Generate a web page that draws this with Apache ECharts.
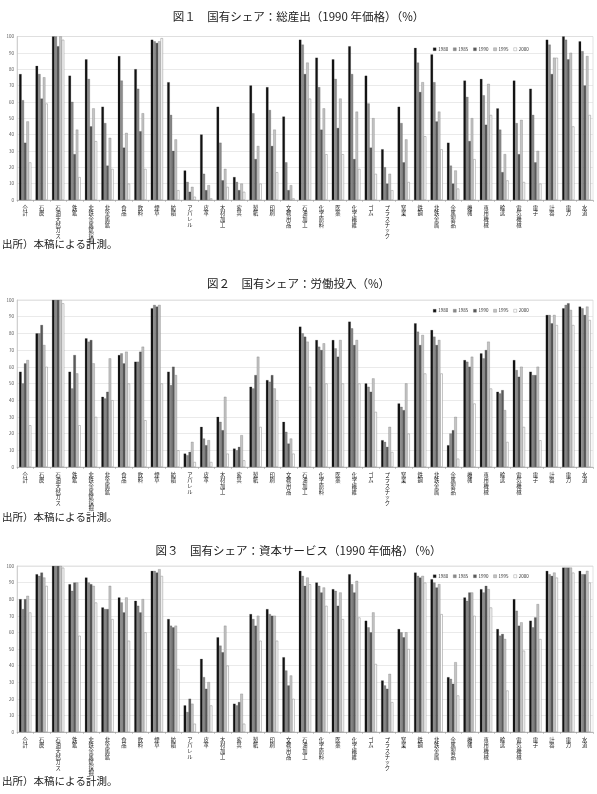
<!DOCTYPE html>
<html><head><meta charset="utf-8">
<script src="https://cdn.jsdelivr.net/npm/echarts@6/dist/echarts.min.js"></script>
<style>html,body{margin:0;padding:0;background:#fff}#c{width:597px;height:794px}</style>
</head><body><div id="c"></div>
<script>
const categories = ['合計','石炭','石油天然ガス','鉄鉱','非鉄金属鉱採掘','非金属鉱','食品','飲料','煙草','紡績','アパレル','皮革','木材加工','家具','製紙','印刷','文教用品','石油加工','化学原料','医薬','化学繊維','ゴム','プラスチック','窯業','鉄鋼','非鉄金属','金属製品','機械','専用機械','輸送','電気機械','電子','計器','電力','水道'];
const years = ['1980','1985','1990','1995','2000'];
const yTicks = [0,10,20,30,40,50,60,70,80,90,100];

// 図1 総産出
const output_1980 = [77,82,100,76,86,57,88,80,98,72,18,40,57,14,70,69,51,98,87,86,94,76,31,57,93,89,35,73,74,56,73,68,98,100,97];
const output_1985 = [61,77,100,60,74,47,73,68,97,52,11,16,35,11,53,55,23,95,69,74,77,59,20,47,84,72,21,63,64,43,47,52,95,98,91];
const output_1990 = [35,62,94,28,45,21,32,42,96,30,5,6,12,6,25,33,6,77,43,44,25,32,10,23,66,48,10,36,46,17,28,23,77,86,70];
const output_1995 = [48,75,100,43,56,38,41,53,97,37,8,9,19,10,33,43,9,84,56,62,54,50,16,37,72,54,18,50,71,28,49,30,87,90,88];
const output_2000 = [23,59,98,14,36,19,10,19,99,6,2,1,8,5,10,17,1,62,28,28,19,16,6,11,39,31,7,25,52,12,11,10,87,45,52];

// 図2 労働投入
const labor_1980 = [57,80,100,57,77,42,67,63,95,57,8,24,30,11,48,52,27,84,76,76,87,50,16,38,86,82,13,64,68,45,64,57,91,95,96];
const labor_1985 = [50,80,100,47,75,41,68,63,97,49,7,17,27,10,47,51,21,80,72,71,83,48,15,36,81,78,20,63,65,44,58,55,91,97,95];
const labor_1990 = [62,85,100,67,76,45,62,69,96,60,9,13,22,12,55,55,14,78,70,66,73,45,12,34,73,73,22,60,70,46,54,55,86,98,91];
const labor_1995 = [64,73,100,56,62,65,69,72,97,55,15,16,42,19,66,47,17,75,74,76,76,53,24,50,79,76,30,66,75,34,60,60,91,94,96];
const labor_2000 = [25,60,98,25,30,40,50,28,50,10,3,3,8,4,24,40,8,48,50,50,50,33,9,20,56,56,5,38,47,15,24,16,85,85,88];

// 図3 資本サービス
const capital_1980 = [80,95,100,89,93,75,81,79,97,68,16,44,57,17,71,74,45,97,90,86,95,67,31,62,96,92,33,81,86,62,80,67,97,99,97];
const capital_1985 = [74,94,100,85,90,74,78,76,97,64,12,33,52,16,68,71,37,94,88,85,89,63,28,60,94,90,32,79,84,58,73,63,95,99,95];
const capital_1990 = [80,96,100,90,89,74,72,72,96,63,20,26,48,18,64,70,28,88,84,76,84,60,26,57,93,87,29,84,88,59,64,69,94,99,95];
const capital_1995 = [82,93,100,90,88,88,81,80,98,64,17,30,64,23,70,70,34,93,87,84,91,72,35,60,94,89,42,84,86,56,66,77,96,99,97];
const capital_2000 = [72,88,99,58,78,68,55,60,94,38,5,16,40,5,55,55,20,89,76,68,69,41,18,50,90,71,22,70,75,25,49,56,93,96,90];

const chartData = [
  {title:'図１　国有シェア：総産出（1990 年価格）（%）', sets:[output_1980,output_1985,output_1990,output_1995,output_2000]},
  {title:'図２　国有シェア：労働投入（%）', sets:[labor_1980,labor_1985,labor_1990,labor_1995,labor_2000]},
  {title:'図３　国有シェア：資本サービス（1990 年価格）（%）', sets:[capital_1980,capital_1985,capital_1990,capital_1995,capital_2000]}
];

const colors = ['#111111','#8c8c8c','#595959','#c4c4c4','#ffffff'];
const layout = [
  {titleY:11, top:36.5, height:163.5, legendY:42, srcY:239},
  {titleY:278, top:300, height:167, legendY:303.5, srcY:512},
  {titleY:545, top:566, height:166, legendY:569, srcY:776}
];
const FONT = '"Noto Sans CJK JP","Noto Sans",sans-serif';

const grid=[], xAxis=[], yAxis=[], series=[], legend=[], graphic=[];
chartData.forEach((c,i)=>{
  const L = layout[i];
  grid.push({left:17, right:4, top:L.top, height:L.height, containLabel:false,
    show:true, borderColor:'#d0d0d0', borderWidth:0.6});
  xAxis.push({type:'category', gridIndex:i, data:categories,
    axisLine:{lineStyle:{color:'#999',width:0.6}},
    axisTick:{show:true, length:2, lineStyle:{color:'#999',width:0.5}},
    axisLabel:{interval:0, fontSize:5.3, lineHeight:5.6, color:'#222', margin:5, fontFamily:FONT,
      formatter:v=>v.split('').join('\n'), verticalAlign:'top'}});
  yAxis.push({type:'value', gridIndex:i, min:0, max:100, interval:10,
    axisLine:{show:true, lineStyle:{color:'#bbb',width:0.6}},
    axisTick:{show:false},
    splitLine:{lineStyle:{color:'#dcdcdc',width:0.6}},
    axisLabel:{fontSize:4.5, color:'#555', margin:3, fontFamily:FONT}});
  years.forEach((y,k)=>{
    series.push({type:'bar', name:y, xAxisIndex:i, yAxisIndex:i, data:c.sets[k],
      barGap:'0%', barCategoryGap:'26%',
      itemStyle:{color:colors[k], borderColor: k===4?'#888':'#333', borderWidth: k===4?0.5:0.2},
      emphasis:{disabled:true}, animation:false});
  });
  legend.push({show:true, top:L.legendY, left:428, orient:'horizontal', itemWidth:3, itemHeight:3,
    itemGap:5, data:years, textStyle:{fontSize:4.5, color:'#333', fontFamily:FONT, padding:[0,0,0,-3]},
    icon:'rect', selectedMode:false, itemStyle:{borderColor:'#666',borderWidth:0.3}});
  graphic.push({type:'text', left:'center', top:L.titleY, style:{text:c.title, fontSize:11.5, fill:'#222', fontFamily:FONT}});
  graphic.push({type:'text', left:2, top:L.srcY, style:{text:'出所）本稿による計測。', fontSize:10.5, fill:'#222', fontFamily:FONT}});
});

const chart = echarts.init(document.getElementById('c'), null, {renderer:'canvas'});
chart.setOption({animation:false, backgroundColor:'#fff', grid, xAxis, yAxis, series, legend, graphic});
</script></body></html>
